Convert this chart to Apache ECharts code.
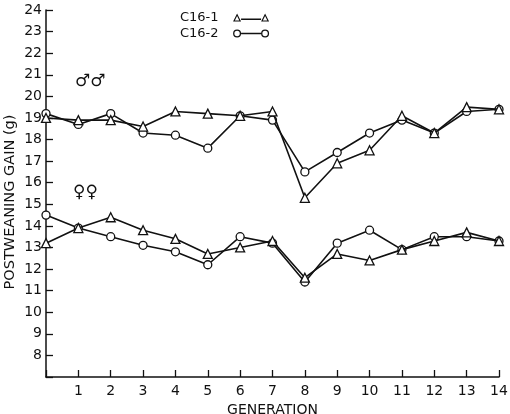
<!DOCTYPE html>
<html>
<head>
<meta charset="utf-8">
<script src="https://cdn.jsdelivr.net/npm/echarts@6/dist/echarts.min.js"></script>
<style>
  html, body { margin: 0; padding: 0; background: #fff; }
  #chart { width: 510px; height: 414px; }
</style>
</head>
<body>
<div id="chart"></div>
<script>
 // generations 0..14
 var generations = [0,1,2,3,4,5,6,7,8,9,10,11,12,13,14];
 // males
 var maleC161 = [19.0,18.9,18.9,18.6,19.3,19.2,19.1,19.3,15.3,16.9,17.5,19.1,18.3,19.5,19.4];
 var maleC162 = [19.2,18.7,19.2,18.3,18.2,17.6,19.1,18.9,16.5,17.4,18.3,18.9,18.3,19.3,19.4];
 // females
 var femaleC161 = [13.2,13.9,14.4,13.8,13.4,12.7,13.0,13.3,11.6,12.7,12.4,12.9,13.3,13.7,13.3];
 var femaleC162 = [14.5,13.9,13.5,13.1,12.8,12.2,13.5,13.2,11.4,13.2,13.8,12.9,13.5,13.5,13.3];

 function pairs(ys) {
   return generations.map(function (g, i) { return [g, ys[i]]; });
 }

 function makeSeries(name, ys, symbol) {
   return {
     name: name,
     type: 'line',
     data: pairs(ys),
     symbol: symbol,
     symbolSize: symbol == 'triangle' ? 9 : 8,
     showAllSymbol: true,
     lineStyle: { color: '#111', width: 1.6 },
     itemStyle: { color: '#fff', borderColor: '#111', borderWidth: 1.3 },
     emphasis: { disabled: true },
     z: symbol == 'triangle' ? 3 : 2
   };
 }

 // legend keys: open mark - line - open mark
 var triIcon = 'path://M0,8L4,0L8,8Z M1.8,6.9L6.2,6.9L4,2.4Z ' +
   'M8,5L28,5L28,6.5L8,6.5Z ' +
   'M28,8L32,0L36,8Z M29.8,6.9L34.2,6.9L32,2.4Z';
 var circIcon = 'path://M0,4A4,4 0 1,1 8,4A4,4 0 1,1 0,4Z M1.3,4A2.7,2.7 0 1,0 6.7,4A2.7,2.7 0 1,0 1.3,4Z ' +
   'M8,3.3L28,3.3L28,4.8L8,4.8Z ' +
   'M28,4A4,4 0 1,1 36,4A4,4 0 1,1 28,4Z M29.3,4A2.7,2.7 0 1,0 34.7,4A2.7,2.7 0 1,0 29.3,4Z';

 var font = 'DejaVu Sans';

 var option = {
   animation: false,
   backgroundColor: '#fff',
   grid: { left: 46, right: 11, top: 10, bottom: 37, outerBoundsMode: 'none' },
   legend: {
     orient: 'vertical',
     left: 175,
     top: 6,
     align: 'right',
     itemWidth: 37,
     itemHeight: 8,
     itemGap: 3,
     itemStyle: { color: '#111', borderWidth: 0 },
     textStyle: { fontFamily: font, fontSize: 13, color: '#111', padding: [0, 9, 0, 0] },
     data: [
       { name: 'C16-1', icon: triIcon },
       { name: 'C16-2', icon: circIcon }
     ]
   },
   xAxis: {
     type: 'value',
     min: 0, max: 14, interval: 1,
     name: 'GENERATION',
     nameLocation: 'middle',
     nameGap: 24,
     nameTextStyle: { fontFamily: font, fontSize: 14, color: '#111' },
     splitLine: { show: false },
     axisLine: { lineStyle: { color: '#111', width: 1.5 } },
     axisTick: { inside: true, length: 7, lineStyle: { color: '#111', width: 1.3 } },
     axisLabel: {
       margin: 7, fontFamily: font, fontSize: 14, color: '#111',
       formatter: function (v) { return v == 0 ? '' : v; }
     }
   },
   yAxis: {
     type: 'value',
     min: 7, max: 24, interval: 1,
     splitLine: { show: false },
     axisLine: { lineStyle: { color: '#111', width: 1.5 } },
     axisTick: { inside: true, length: 7, lineStyle: { color: '#111', width: 1.3 } },
     axisLabel: {
       margin: 4, fontFamily: font, fontSize: 14, color: '#111',
       formatter: function (v) { return v == 7 ? '' : v; }
     }
   },
   graphic: [
     // y axis title sits a little below the axis middle in the original
     { type: 'text', x: 10, y: 202, rotation: Math.PI / 2,
       style: { text: 'POSTWEANING GAIN (g)', fontSize: 14.5, fill: '#111', fontFamily: font,
                align: 'center', verticalAlign: 'middle' } },
     { type: 'text', left: 75, top: 73, style: { text: '\u2642\u2642', fontSize: 17, fill: '#111', fontFamily: font } },
     { type: 'text', left: 73, top: 184, style: { text: '\u2640\u2640', fontSize: 17, fill: '#111', fontFamily: font } }
   ],
   series: [
     makeSeries('C16-1', maleC161, 'triangle'),
     makeSeries('C16-2', maleC162, 'circle'),
     makeSeries('C16-1', femaleC161, 'triangle'),
     makeSeries('C16-2', femaleC162, 'circle')
   ]
 };

 var myChart = echarts.init(document.getElementById('chart'));
 myChart.setOption(option);
</script>
</body>
</html>
